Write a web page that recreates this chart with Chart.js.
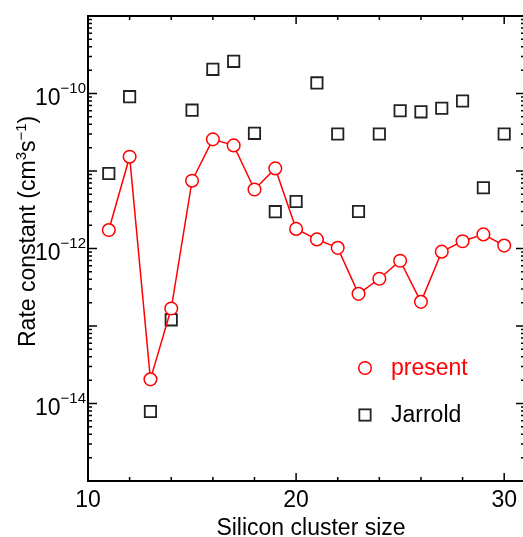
<!DOCTYPE html>
<html>
<head>
<meta charset="utf-8">
<script src="https://cdn.jsdelivr.net/npm/chart.js@4.4.0/dist/chart.umd.min.js"></script>
<style>
  html, body { margin: 0; padding: 0; overflow: hidden; background: #fff; }
</style>
</head>
<body>
<canvas id="rate" width="525" height="537"></canvas>
<script>
// silicon cluster sizes and rate constants (cm^3 s^-1)
var clusterSize = [11, 12, 13, 14, 15, 16, 17, 18, 19, 20, 21, 22, 23, 24, 25, 26, 27, 28, 29, 30];
var presentRate = [1.73e-12, 1.53e-11, 2.05e-14, 1.68e-13, 7.5e-12, 2.56e-11, 2.14e-11, 5.77e-12, 1.08e-11, 1.79e-12,
                   1.31e-12, 1.02e-12, 2.6e-13, 4.07e-13, 6.95e-13, 2.05e-13, 9.1e-13, 1.24e-12, 1.52e-12, 1.09e-12];
var jarroldRate = [9.3e-12, 9.1e-11, 7.9e-15, 1.2e-13, 6.1e-11, 2.05e-10, 2.6e-10, 3.06e-11, 2.99e-12, 4.04e-12,
                   1.37e-10, 3.0e-11, 3.0e-12, 3.0e-11, 6.0e-11, 5.8e-11, 6.45e-11, 8.0e-11, 6.07e-12, 3.0e-11];
var xTickValues = [10, 20, 30];
var xMinorStep = 2;
var yLabelExponents = [-10, -12, -14];
var seriesNames = ["present", "Jarrold"];

var FONT = "Liberation Sans, Arial, Helvetica, sans-serif";

function pairs(xs, ys) {
    return xs.map(function(x, i) { return {x: x, y: ys[i]}; });
}

// draws the boxed axes, inward ticks, superscript labels, titles and legend
var framePlugin = {
    id: "frame",
    afterDraw: function(chart) {
        var ctx = chart.ctx, a = chart.chartArea;
        var xs = chart.scales.x, ys = chart.scales.y;
        ctx.save();
        ctx.strokeStyle = "#000";
        ctx.lineWidth = 2;
        ctx.beginPath();
        ctx.moveTo(a.left, a.top); ctx.lineTo(a.right, a.top);
        ctx.moveTo(a.left, a.bottom); ctx.lineTo(a.right, a.bottom);
        ctx.moveTo(a.left, a.top - 1); ctx.lineTo(a.left, a.bottom + 1);
        ctx.moveTo(a.right, a.top - 1); ctx.lineTo(a.right, a.bottom + 1);
        ctx.stroke();

        // x ticks, bottom and top
        ctx.lineWidth = 1.5;
        ctx.beginPath();
        for (var v = xs.min; v <= xs.max; v += xMinorStep) {
            var px = xs.getPixelForValue(v);
            var len = xTickValues.indexOf(v) >= 0 ? 8 : 4;
            ctx.moveTo(px, a.bottom); ctx.lineTo(px, a.bottom - len);
            ctx.moveTo(px, a.top); ctx.lineTo(px, a.top + len);
        }
        // y ticks, left and right
        for (var e = -15; e <= -9; e++) {
            for (var m = 1; m <= 9; m++) {
                var val = m * Math.pow(10, e);
                if (val < ys.min * 0.999 || val > ys.max * 1.001) continue;
                var py = ys.getPixelForValue(val);
                var l = m === 1 ? 9 : 4;
                ctx.moveTo(a.left, py); ctx.lineTo(a.left + l, py);
                ctx.moveTo(a.right, py); ctx.lineTo(a.right - l, py);
            }
        }
        ctx.stroke();

        // y labels 10^n
        ctx.fillStyle = "#000";
        ctx.textBaseline = "alphabetic";
        yLabelExponents.forEach(function(ex) {
            var py = ys.getPixelForValue(Math.pow(10, ex));
            var sup = "\u2212" + (-ex);
            ctx.font = "15px " + FONT;
            var wSup = ctx.measureText(sup).width;
            ctx.font = "23px " + FONT;
            var wBase = ctx.measureText("10").width;
            var right = a.left - 2;
            ctx.textAlign = "left";
            ctx.fillText("10", right - wSup - wBase, py + 11);
            ctx.font = "15px " + FONT;
            ctx.fillText(sup, right - wSup, py - 1);
        });

        // x title
        ctx.font = "23px " + FONT;
        ctx.textAlign = "center";
        ctx.fillText("Silicon cluster size", 311, 535);

        // y title with superscripts
        ctx.save();
        ctx.translate(35, 347);
        ctx.rotate(-Math.PI / 2);
        ctx.textAlign = "left";
        var parts = [["Rate constant (cm", 23, 0], ["3", 15, -9], ["s", 23, 0], ["\u22121", 15, -9], [")", 23, 0]];
        var cx = 0;
        parts.forEach(function(p) {
            ctx.font = p[1] + "px " + FONT;
            ctx.fillText(p[0], cx, p[2]);
            cx += ctx.measureText(p[0]).width;
        });
        ctx.restore();

        // legend
        var d0 = chart.data.datasets[0], d1 = chart.data.datasets[1];
        ctx.lineWidth = d0.pointBorderWidth;
        ctx.strokeStyle = d0.borderColor;
        ctx.fillStyle = "#fff";
        ctx.beginPath();
        ctx.arc(365, 368, d0.pointRadius, 0, Math.PI * 2);
        ctx.fill(); ctx.stroke();
        ctx.lineWidth = d1.pointBorderWidth;
        ctx.strokeStyle = d1.pointBorderColor;
        var h = d1.pointRadius * Math.SQRT1_2;
        ctx.strokeRect(365 - h, 415 - h, 2 * h, 2 * h);
        ctx.font = "23px " + FONT;
        ctx.textAlign = "left";
        ctx.fillStyle = "#ff0000";
        ctx.fillText(seriesNames[0], 391, 375);
        ctx.fillStyle = "#000";
        ctx.fillText(seriesNames[1], 391, 421.7);
        ctx.restore();
    }
};

new Chart(document.getElementById("rate").getContext("2d"), {
    type: "line",
    data: {
        datasets: [
            {
                label: seriesNames[0],
                data: pairs(clusterSize, presentRate),
                borderColor: "#ff0000",
                borderWidth: 1.5,
                pointStyle: "circle",
                pointRadius: 6.3,
                pointBorderWidth: 1.5,
                pointBorderColor: "#ff0000",
                pointBackgroundColor: "#fff",
                tension: 0,
                order: 0
            },
            {
                label: seriesNames[1],
                data: pairs(clusterSize, jarroldRate),
                showLine: false,
                pointStyle: "rect",
                pointRadius: 8,
                pointBorderWidth: 1.8,
                pointBorderColor: "#222",
                pointBackgroundColor: "rgba(255,255,255,0)",
                order: 1
            }
        ]
    },
    options: {
        responsive: false,
        animation: false,
        layout: {autoPadding: false, padding: {left: 0, top: 16, right: 0, bottom: 0}},
        plugins: {legend: {display: false}, tooltip: {enabled: false}},
        scales: {
            x: {
                type: "linear",
                min: 10,
                max: 31,
                afterFit: function(s) { s.height = 56; },
                afterBuildTicks: function(s) { s.ticks = xTickValues.map(function(v) { return {value: v}; }); },
                grid: {display: false, drawTicks: false},
                border: {display: false},
                ticks: {font: {family: FONT, size: 23}, color: "#000", padding: 6, maxRotation: 0}
            },
            y: {
                type: "logarithmic",
                min: 1e-15,
                max: 1e-9,
                afterFit: function(s) { s.width = 88; },
                grid: {display: false, drawTicks: false},
                border: {display: false},
                ticks: {display: false}
            }
        }
    },
    plugins: [framePlugin]
});
</script>
</body>
</html>
